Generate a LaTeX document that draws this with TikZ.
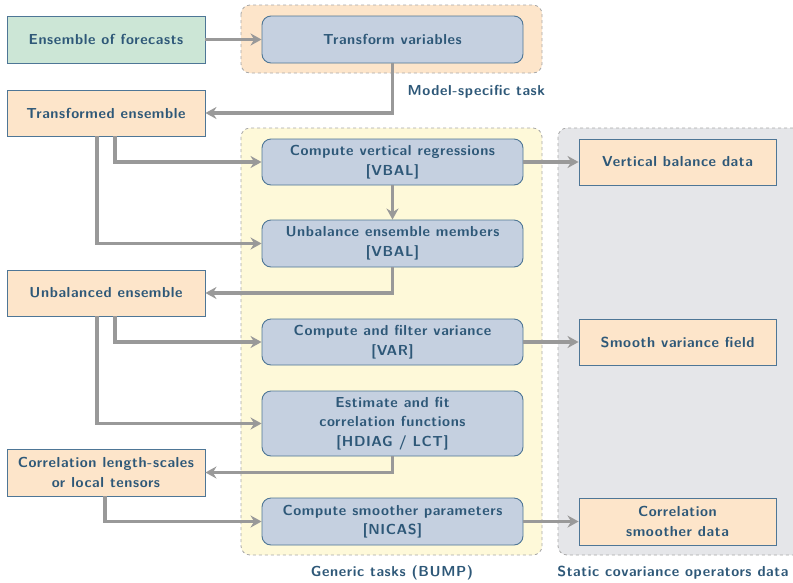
\documentclass[tikz,border=0pt]{standalone}
\usepackage{fontspec}
\setsansfont{Latin Modern Sans}[LetterSpace=4]
\usetikzlibrary{arrows.meta}
\definecolor{txt}{HTML}{2E5878}
\definecolor{edge}{HTML}{4E7696}
\definecolor{taskfill}{HTML}{C5D0E0}
\definecolor{datafill}{HTML}{FDE5CA}
\definecolor{inputfill}{HTML}{CCE6D6}
\definecolor{genfill}{HTML}{FEF9D9}
\definecolor{statfill}{HTML}{E5E6E9}
\definecolor{modelfill}{HTML}{FDE5CA}
\definecolor{flow}{HTML}{999999}
\definecolor{dashc}{HTML}{A8A8A8}
\begin{document}
\begin{tikzpicture}[x=1pt,y=-1pt,
  font=\sffamily\bfseries\fontsize{14.5}{19.5}\selectfont,
  every node/.style={text=txt},
  group/.style={draw=dashc,dashed,line width=0.8pt,rounded corners=9pt},
  box/.style={draw=edge,line width=0.9pt,align=center,inner sep=0pt},
  databox/.style={box,fill=datafill},
  inbox/.style={box,fill=inputfill},
  taskbox/.style={box,fill=taskfill,rounded corners=9pt},
  flowline/.style={draw=flow,line width=3.2pt,-{Stealth[length=11pt,width=12pt]}}]
\useasboundingbox (0,0) rectangle (793,582);

% containers
\draw[group,fill=modelfill] (241,5) rectangle (542,73);
\draw[group,fill=genfill] (241,128) rectangle (542,555);
\draw[group,fill=statfill] (558,128) rectangle (805,555);

\node[anchor=west] (lmodel) at (404,92) {Model-specific task};
\node (lgen) at (392,573) {Generic tasks (BUMP)};
\node[anchor=east] (lstat) at (792,573) {Static covariance operators data};

% boxes
\node[inbox,minimum width=198pt,minimum height=47pt] (ens) at (106,39.5) {Ensemble of forecasts};
\node[taskbox,minimum width=261pt,minimum height=47pt] (trans) at (392.5,39.5) {Transform variables};
\node[databox,minimum width=198pt,minimum height=46pt] (tens) at (106,113) {Transformed ensemble};
\node[taskbox,minimum width=261pt,minimum height=46pt] (vreg) at (392.5,162) {Compute vertical regressions\\{}[VBAL]};
\node[databox,minimum width=197pt,minimum height=46pt] (vbd) at (677.5,162) {Vertical balance data};
\node[taskbox,minimum width=261pt,minimum height=47pt] (unb) at (392.5,243.5) {Unbalance ensemble members\\{}[VBAL]};
\node[databox,minimum width=198pt,minimum height=46pt] (uens) at (106,293) {Unbalanced ensemble};
\node[taskbox,minimum width=261pt,minimum height=46pt] (var) at (392.5,342) {Compute and filter variance\\{}[VAR]};
\node[databox,minimum width=197pt,minimum height=46pt] (svf) at (677.5,342) {Smooth variance field};
\node[taskbox,minimum width=261pt,minimum height=65pt] (hdiag) at (392.5,423.5) {Estimate and fit\\correlation functions\\{}[HDIAG / LCT]};
\node[databox,minimum width=198pt,minimum height=47pt] (corr) at (106,472.5) {Correlation length-scales\\or local tensors};
\node[taskbox,minimum width=261pt,minimum height=47pt] (nicas) at (392.5,521.5) {Compute smoother parameters\\{}[NICAS]};
\node[databox,minimum width=197pt,minimum height=47pt] (csd) at (677.5,521.5) {Correlation\\smoother data};

% data flow
\draw[flowline] (ens.east) -- (trans.west);
\draw[flowline] (trans.south) |- (tens.east);
\draw[flowline] (tens.south -| 115,0) |- (vreg.west);
\draw[flowline] (tens.south -| 97,0) |- (unb.west);
\draw[flowline] (vreg.east) -- (vbd.west);
\draw[flowline] (vreg.south) -- (unb.north);
\draw[flowline] (unb.south) |- (uens.east);
\draw[flowline] (uens.south -| 115,0) |- (var.west);
\draw[flowline] (uens.south -| 97,0) |- (hdiag.west);
\draw[flowline] (var.east) -- (svf.west);
\draw[flowline] (hdiag.south) |- (corr.east);
\draw[flowline] (corr.south -| 105,0) |- (nicas.west);
\draw[flowline] (nicas.east) -- (csd.west);
\end{tikzpicture}
\end{document}
